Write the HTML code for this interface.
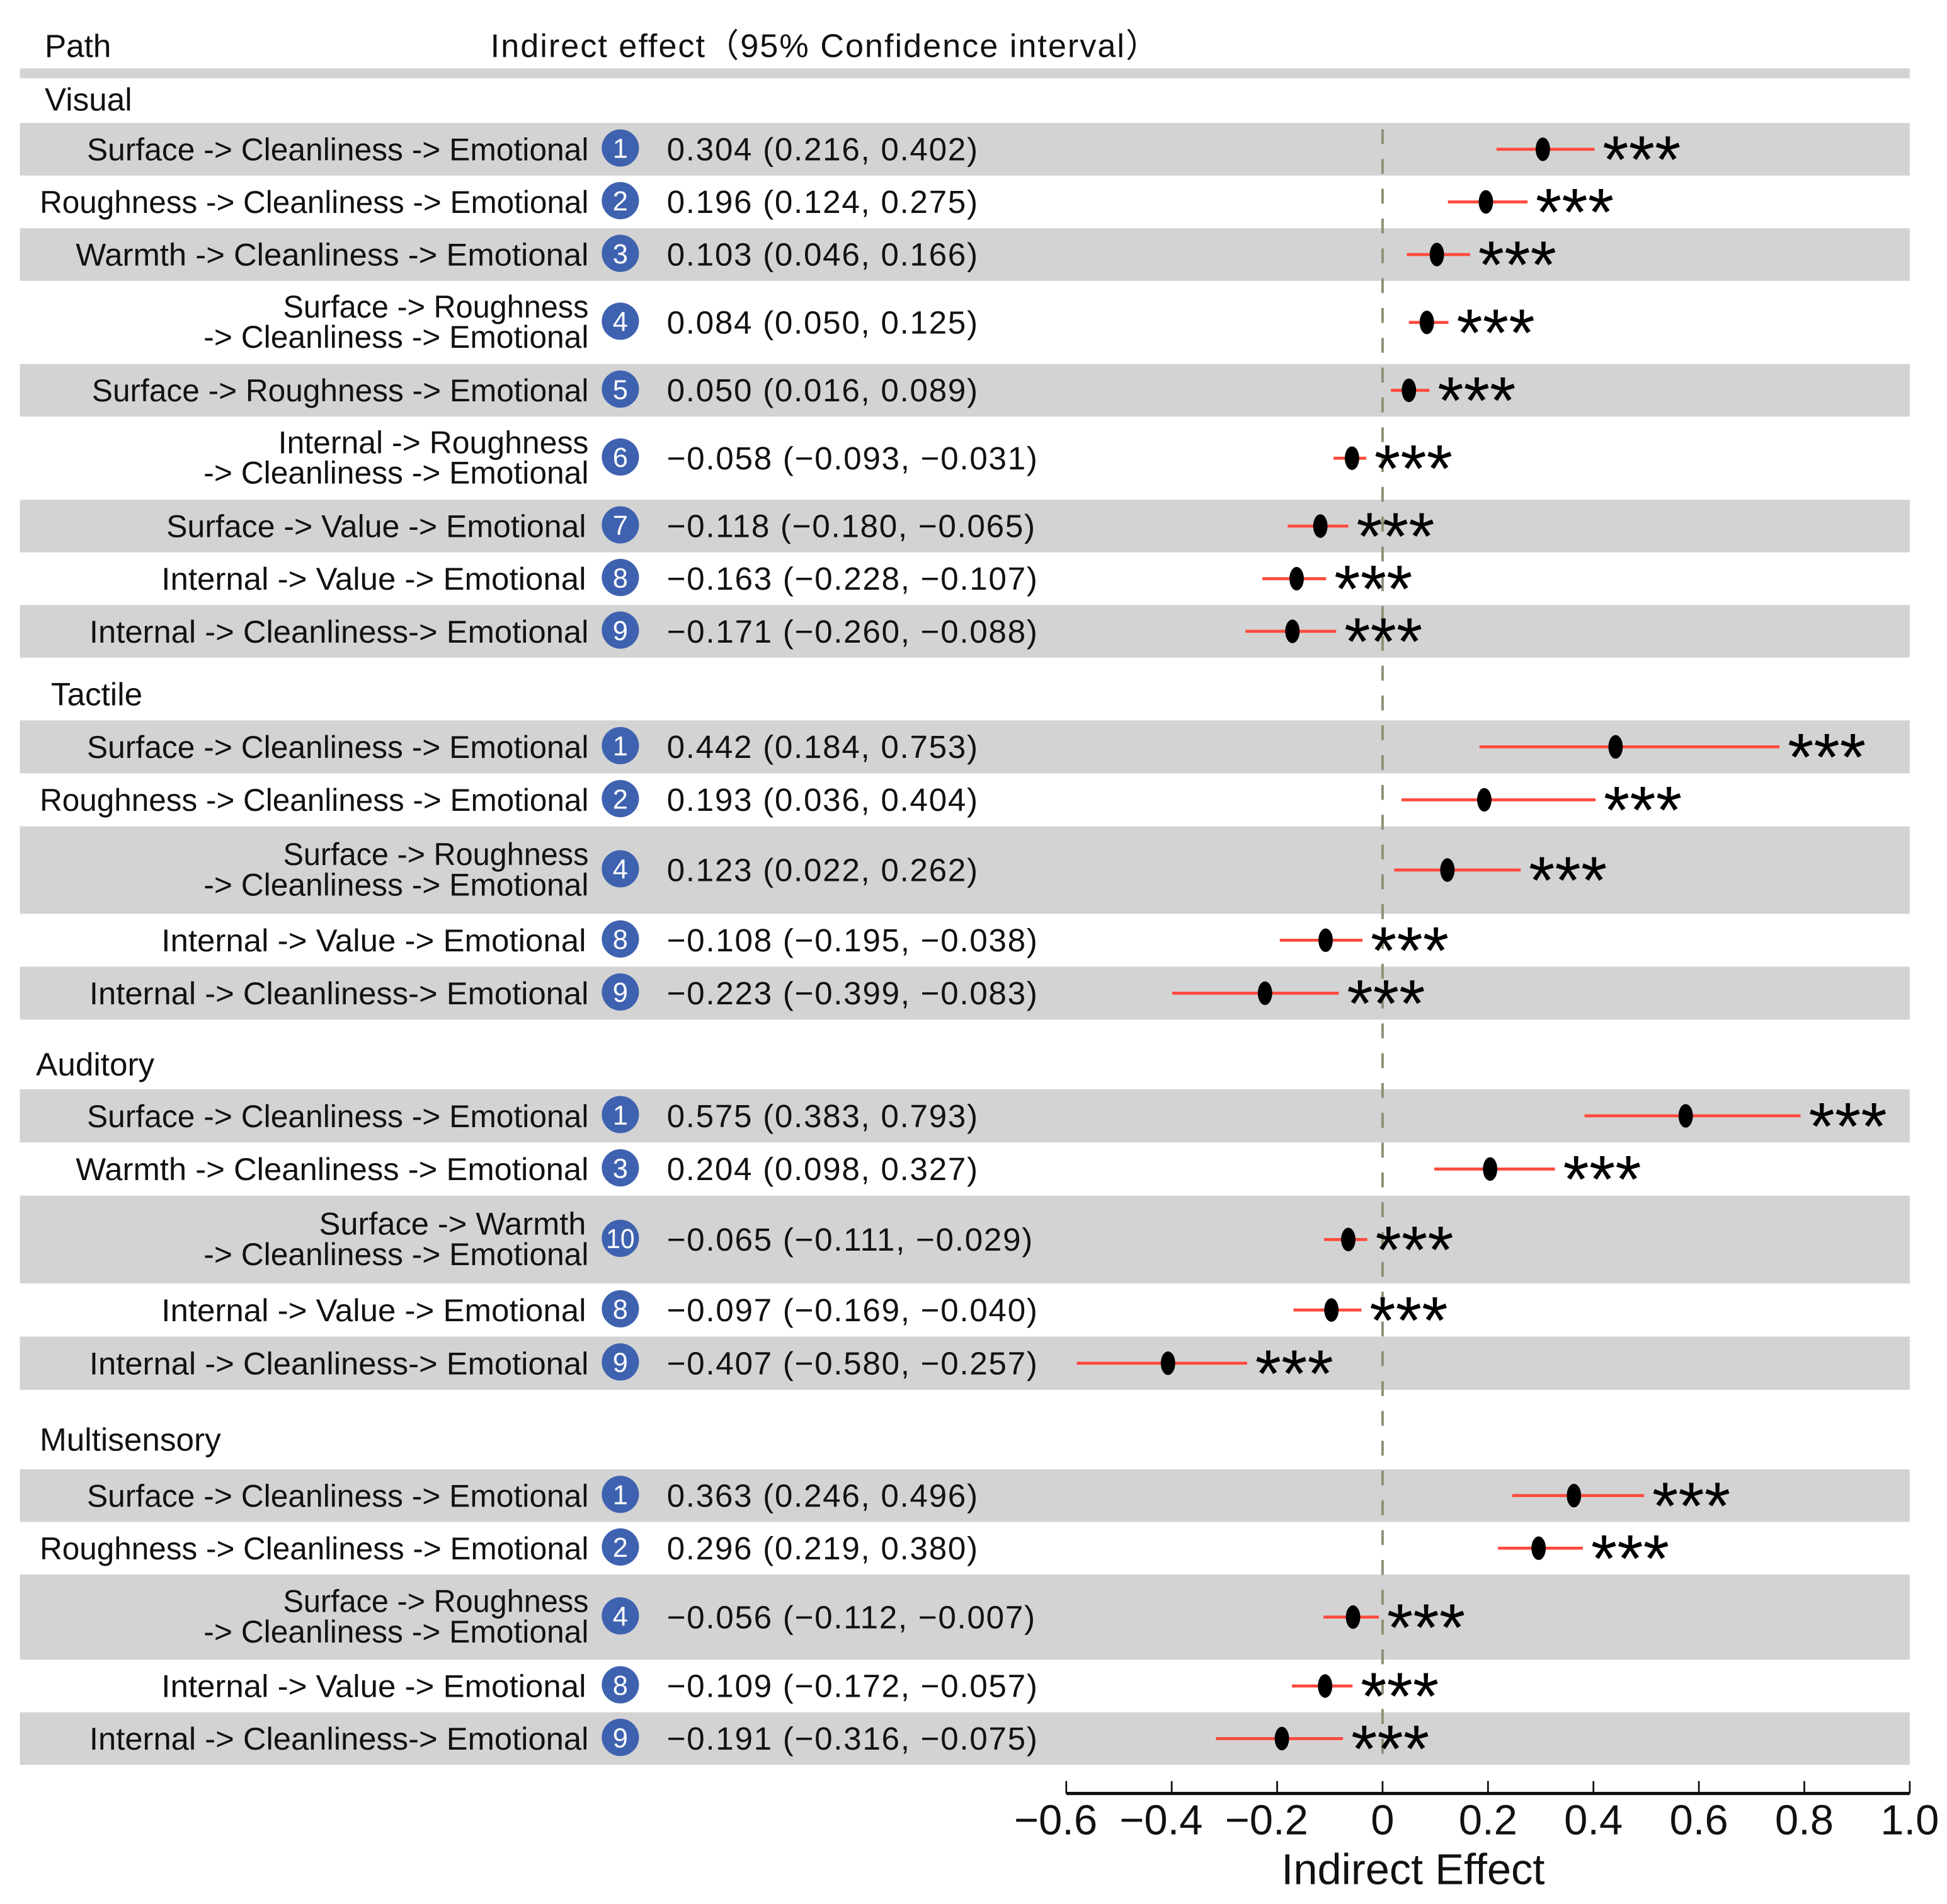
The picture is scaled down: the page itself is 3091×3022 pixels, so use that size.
<!DOCTYPE html>
<html lang="en">
<head>
<meta charset="utf-8">
<title>Indirect effect forest plot</title>
<style>
html,body{margin:0;padding:0;background:#fff;}
svg{display:block;}
text{font-family:"Liberation Sans","Noto Sans CJK SC",sans-serif;fill:#111;}
</style>
</head>
<body>
<svg id="chart" xmlns="http://www.w3.org/2000/svg" width="3091" height="3022" viewBox="0 0 1568 1533">
  <rect x="0" y="0" width="1568" height="1533" fill="#ffffff"/>
  <text x="36" y="46" font-size="26">Path</text>
  <text x="395" y="46" font-size="26.5" textLength="538" lengthAdjust="spacing">Indirect effect（95% Confidence interval）</text>
  <rect x="16" y="55" width="1522" height="8" fill="#d3d3d3"/>
  <g id="bands"></g>
  <g id="labels"></g>
  <line id="zero" stroke="#8f8f78" stroke-width="2" stroke-dasharray="12 12"></line>
  <g id="marks"></g>
  <g id="axis"></g>
  <text x="1138" y="1517" font-size="34.8" text-anchor="middle">Indirect Effect</text>
</svg>
<script>
// ---- chart data ----
const groupNames = ["Visual", "Tactile", "Auditory", "Multisensory"];
const rowGroups = [0,0,0,0,0,0,0,0,0, 1,1,1,1,1, 2,2,2,2,2, 3,3,3,3,3];
const pathLabels = [
  "Surface -> Cleanliness -> Emotional",
  "Roughness -> Cleanliness -> Emotional",
  "Warmth -> Cleanliness -> Emotional",
  "Surface -> Roughness|-> Cleanliness -> Emotional",
  "Surface -> Roughness -> Emotional",
  "Internal -> Roughness|-> Cleanliness -> Emotional",
  "Surface -> Value -> Emotional",
  "Internal -> Value -> Emotional",
  "Internal -> Cleanliness-> Emotional",
  "Surface -> Cleanliness -> Emotional",
  "Roughness -> Cleanliness -> Emotional",
  "Surface -> Roughness|-> Cleanliness -> Emotional",
  "Internal -> Value -> Emotional",
  "Internal -> Cleanliness-> Emotional",
  "Surface -> Cleanliness -> Emotional",
  "Warmth -> Cleanliness -> Emotional",
  "Surface -> Warmth|-> Cleanliness -> Emotional",
  "Internal -> Value -> Emotional",
  "Internal -> Cleanliness-> Emotional",
  "Surface -> Cleanliness -> Emotional",
  "Roughness -> Cleanliness -> Emotional",
  "Surface -> Roughness|-> Cleanliness -> Emotional",
  "Internal -> Value -> Emotional",
  "Internal -> Cleanliness-> Emotional"
];
const pathNumbers = [1,2,3,4,5,6,7,8,9, 1,2,4,8,9, 1,3,10,8,9, 1,2,4,8,9];
const effects = [0.304,0.196,0.103,0.084,0.050,-0.058,-0.118,-0.163,-0.171,
                 0.442,0.193,0.123,-0.108,-0.223,
                 0.575,0.204,-0.065,-0.097,-0.407,
                 0.363,0.296,-0.056,-0.109,-0.191];
const ciLow = [0.216,0.124,0.046,0.050,0.016,-0.093,-0.180,-0.228,-0.260,
               0.184,0.036,0.022,-0.195,-0.399,
               0.383,0.098,-0.111,-0.169,-0.580,
               0.246,0.219,-0.112,-0.172,-0.316];
const ciHigh = [0.402,0.275,0.166,0.125,0.089,-0.031,-0.065,-0.107,-0.088,
                0.753,0.404,0.262,-0.038,-0.083,
                0.793,0.327,-0.029,-0.040,-0.257,
                0.496,0.380,-0.007,-0.057,-0.075];
const significance = ["***","***","***","***","***","***","***","***","***",
                      "***","***","***","***","***",
                      "***","***","***","***","***",
                      "***","***","***","***","***"];
const tickValues = [-0.6,-0.4,-0.2,0,0.2,0.4,0.6,0.8,1.0];
const tickLabels = ["\u22120.6","\u22120.4","\u22120.2","0","0.2","0.4","0.6","0.8","1.0"];

// ---- layout constants ----
const SVG_NS = "http://www.w3.org/2000/svg";
const AXIS_MIN = tickValues[0];
const AXIS_MAX = tickValues[tickValues.length - 1];
const PLOT_LEFT = 858.7;
const PLOT_RIGHT = 1538;
const LABEL_RIGHT = 474;
const groupSpans = [[99, 529.5, 36, 80], [580, 821, 41, 559], [877, 1119, 29, 857], [1183, 1421, 32, 1159]];
const doubleRowWeights = [1.58, 1.65, 1.65, 1.62];
const labelFit = {
  "Surface -> Cleanliness -> Emotional": [404, 0],
  "Roughness -> Cleanliness -> Emotional": [442, 0],
  "Warmth -> Cleanliness -> Emotional": [413, 0],
  "Surface -> Roughness": [246, 0],
  "-> Cleanliness -> Emotional": [310, 0],
  "Surface -> Roughness -> Emotional": [400, 0],
  "Internal -> Roughness": [250, 0],
  "Surface -> Value -> Emotional": [338, 2],
  "Internal -> Value -> Emotional": [342, 2],
  "Internal -> Cleanliness-> Emotional": [402, 0],
  "Surface -> Warmth": [215, 2]
};

function xScale(v) {
  return PLOT_LEFT + (v - AXIS_MIN) / (AXIS_MAX - AXIS_MIN) * (PLOT_RIGHT - PLOT_LEFT);
}
function make(tag, parent) {
  const el = document.createElementNS(SVG_NS, tag);
  parent.appendChild(el);
  return el;
}
function setAll(el, props) {
  Object.keys(props).forEach(function (k) { el.setAttribute(k, props[k]); });
  return el;
}
function fmt(v) {
  return v.toFixed(3).replace("-", "\u2212");
}
function rowWeight(i) {
  return pathLabels[i].indexOf("|") >= 0 ? doubleRowWeights[rowGroups[i]] : 1;
}

const bandsG = document.getElementById("bands");
const labelsG = document.getElementById("labels");
const marksG = document.getElementById("marks");
const axisG = document.getElementById("axis");

// ---- group titles ----
groupNames.forEach(function (name, g) {
  const t = make("text", labelsG);
  
  
  setAll(t, { x: groupSpans[g][2], y: groupSpans[g][3] + 9, "font-size": 26 });
  t.textContent = name;
});

// ---- rows ----
groupNames.forEach(function (name, g) {
  const idx = [];
  rowGroups.forEach(function (rg, i) { if (rg === g) idx.push(i); });
  const total = idx.reduce(function (s, i) { return s + rowWeight(i); }, 0);
  const unit = (groupSpans[g][1] - groupSpans[g][0]) / total;
  let cursor = groupSpans[g][0];
  idx.forEach(function (i, pos) {
    const h = rowWeight(i) * unit;
    const cy = cursor + h / 2;

    if (pos % 2 === 0) {
      const band = make("rect", bandsG);
      
      
      setAll(band, { x: 16, y: cursor, width: 1522, height: h, fill: "#d3d3d3" });
    }

    const lines = pathLabels[i].split("|");
    lines.forEach(function (line, li) {
      const t = make("text", labelsG);
      
      
      const baseY = lines.length === 1 ? cy + 9 : cy - 4 + li * 24.5;
      const fit = labelFit[line];
      setAll(t, { x: LABEL_RIGHT - fit[1], y: baseY, "font-size": 25.2, "text-anchor": "end", textLength: fit[0], lengthAdjust: "spacingAndGlyphs" });
      t.textContent = line;
    });

    const badge = make("circle", labelsG);
    
    
    setAll(badge, { cx: 499.6, cy: cy - 1, r: 15, fill: "#3f62b0" });

    const num = make("text", labelsG);
    
    
    setAll(num, { x: 499.6, y: cy + 7, "font-size": 22, "text-anchor": "middle", style: "fill:#ffffff" });
    if (pathNumbers[i] > 9) { num.setAttribute("textLength", "23"); num.setAttribute("lengthAdjust", "spacingAndGlyphs"); }
    num.textContent = String(pathNumbers[i]);

    const val = make("text", labelsG);
    
    
    setAll(val, { x: 537, y: cy + 9, "font-size": 26, "letter-spacing": 0.85 });
    val.textContent = fmt(effects[i]) + " (" + fmt(ciLow[i]) + ", " + fmt(ciHigh[i]) + ")";

    const ci = make("line", marksG);
    
    
    setAll(ci, { x1: xScale(ciLow[i]), x2: xScale(ciHigh[i]), y1: cy, y2: cy, stroke: "#ff4a3d", "stroke-width": 2.4 });

    const pt = make("ellipse", marksG);
    
    
    setAll(pt, { cx: xScale(effects[i]), cy: cy, rx: 5.8, ry: 9.5, fill: "#000000" });

    const star = make("text", marksG);
    
    
    setAll(star, { x: xScale(ciHigh[i]) + 6.5, y: cy + 27, "font-size": 54, style: "fill:#000000" });
    star.textContent = significance[i];

    cursor += h;
  });
});

// ---- zero line ----
const zero = document.getElementById("zero");
setAll(zero, { x1: xScale(0), x2: xScale(0), y1: 104, y2: 1424 });

// ---- axis ----
const axisLine = make("line", axisG);


setAll(axisLine, { x1: xScale(AXIS_MIN), x2: xScale(AXIS_MAX), y1: 1444, y2: 1444, stroke: "#111111", "stroke-width": 2.6 });

tickValues.forEach(function (v, i) {
  const tick = make("line", axisG);
  
  
  setAll(tick, { x1: xScale(v), x2: xScale(v), y1: 1434, y2: 1444, stroke: "#111111", "stroke-width": 1.4 });

  const lab = make("text", axisG);
  
  
  setAll(lab, { x: xScale(v) - (v < 0 ? 8.5 : 0), y: 1477, "font-size": 34, "text-anchor": "middle" });
  lab.textContent = tickLabels[i];
});
</script>
</body>
</html>
